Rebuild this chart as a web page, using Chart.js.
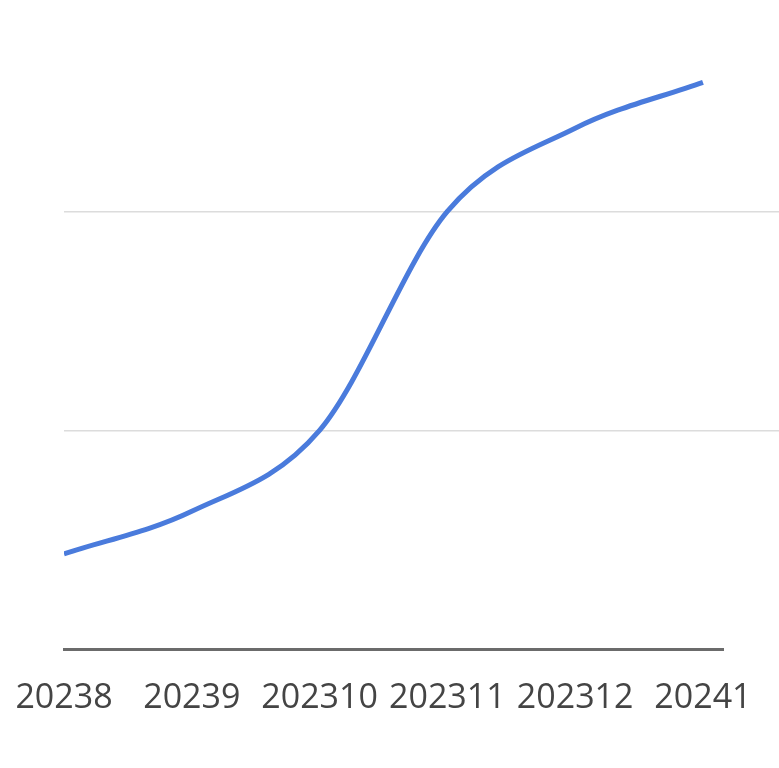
<!DOCTYPE html>
<html>
<head>
<meta charset="utf-8">
<script src="https://cdn.jsdelivr.net/npm/chart.js@4"></script>
<style>
  html, body { margin: 0; padding: 0; background: #fff; }
  #wrap { width: 779px; height: 768px; }
</style>
</head>
<body>
<div id="wrap"><canvas id="graph"></canvas></div>
<script>
// month labels along the bottom
var months = ['20238', '20239', '202310', '202311', '202312', '20241'];
// values (gridlines = 10, 20)
var values = [4.35, 6.3, 10.0, 20.0, 23.8, 25.9];
// y ticks that carry a gridline
var yTicks = [0, 10, 20];

var points = values.map(function (v, i) { return { x: i, y: v }; });

const config = {
  type: 'line',
  data: {
    datasets: [{
      data: points,
      borderColor: '#4a7bdc',
      borderWidth: 5,
      pointRadius: 0,
      cubicInterpolationMode: 'monotone',
      fill: false
    }]
  },
  options: {
    responsive: true,
    maintainAspectRatio: false,
    animation: false,
    layout: { padding: { left: 64, right: 0, top: 0, bottom: 20 } },
    plugins: { legend: { display: false }, tooltip: { enabled: false } },
    scales: {
      x: {
        type: 'linear',
        min: 0,
        max: 5.157,
        grid: { display: false, drawTicks: false },
        border: { display: true, color: '#6b6b6b', width: 3 },
        // labels may hang past the plot edges, don't let them squeeze it
        afterFit: function (scale) {
          scale.paddingLeft = 0;
          scale.paddingRight = 0;
        },
        ticks: {
          stepSize: 1,
          includeBounds: false,
          padding: 29,
          color: '#444',
          font: { family: 'Open Sans', size: 34 },
          maxRotation: 0,
          autoSkip: false,
          callback: function (value) { return months[value]; }
        }
      },
      y: {
        position: 'right',
        min: 0,
        max: 29.66,
        afterBuildTicks: function (scale) {
          scale.ticks = yTicks.map(function (v) { return { value: v }; });
        },
        border: { display: false },
        grid: {
          color: function (ctx) { return ctx.tick && ctx.tick.value === 0 ? 'rgba(0,0,0,0)' : '#dcdcdc'; },
          tickColor: function (ctx) { return ctx.tick && ctx.tick.value === 0 ? 'rgba(0,0,0,0)' : '#dcdcdc'; },
          lineWidth: 1.5,
          drawTicks: true,
          tickLength: 56
        },
        ticks: { display: false }
      }
    }
  }
};

const lineChart = new Chart(document.getElementById('graph'), config);
</script>
</body>
</html>
